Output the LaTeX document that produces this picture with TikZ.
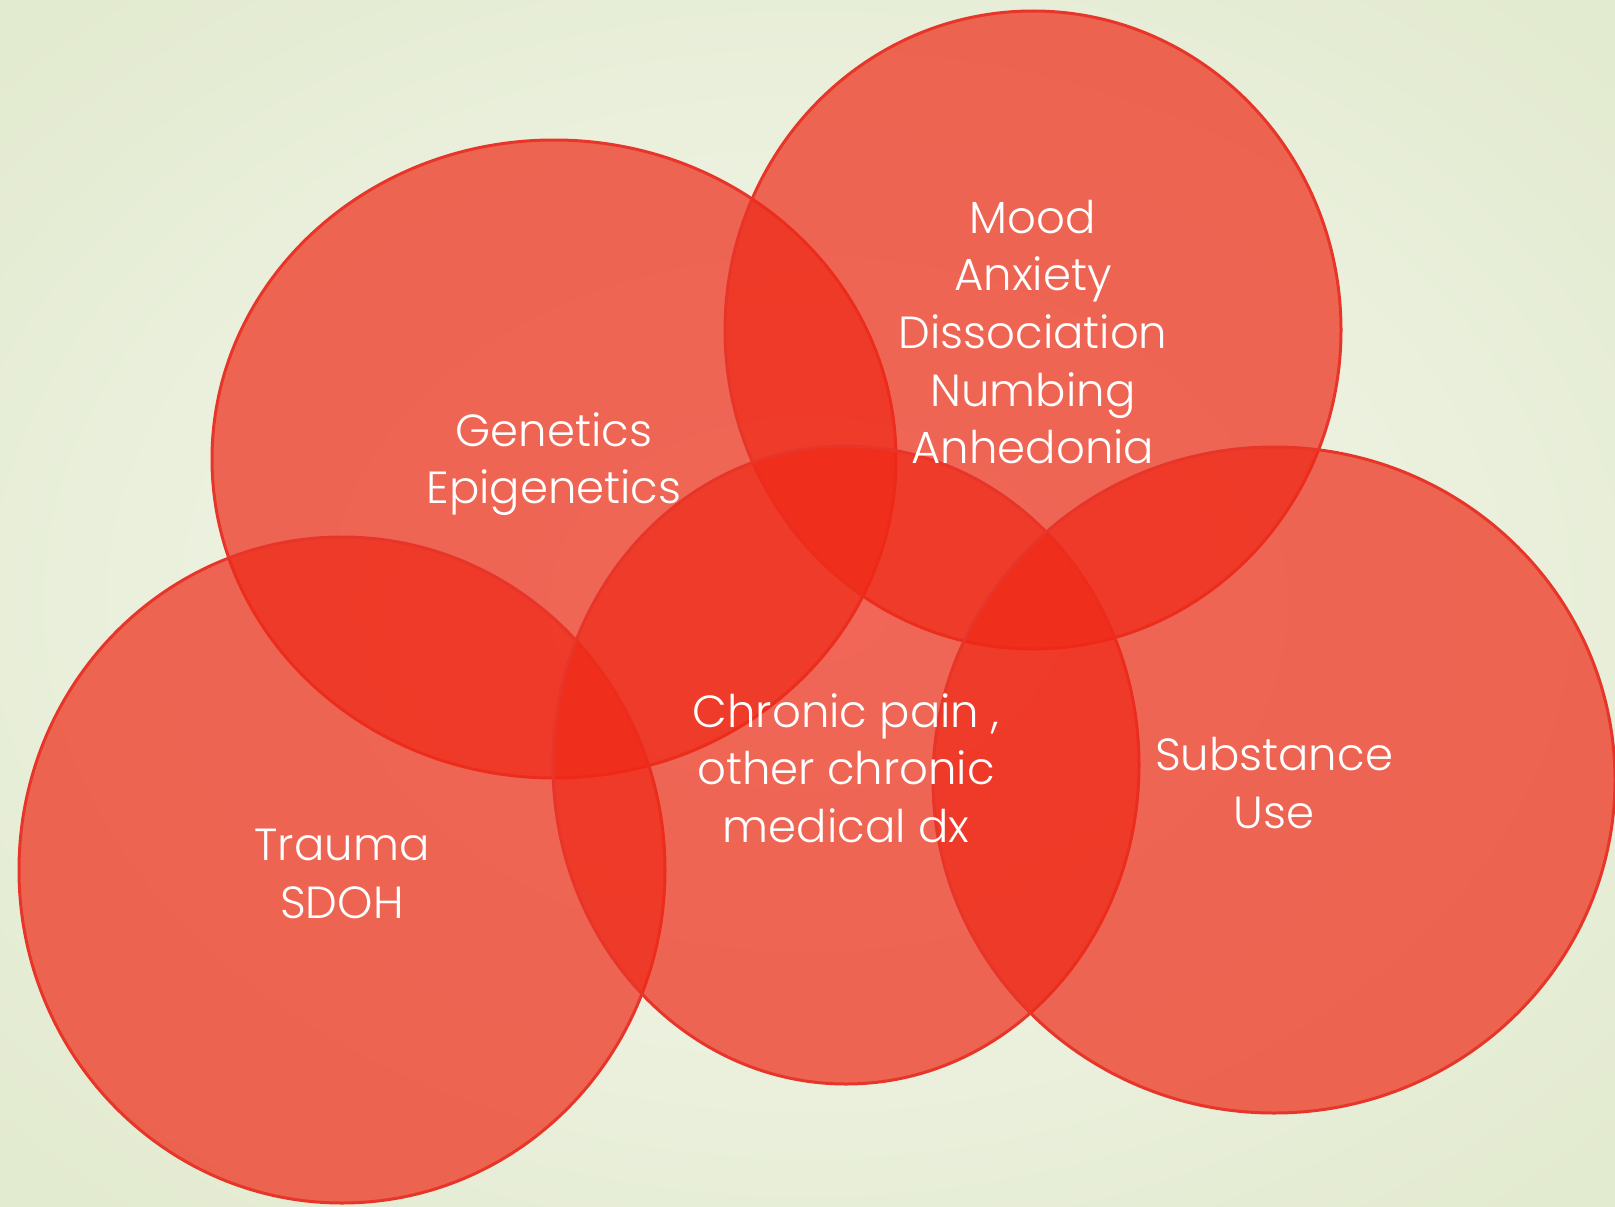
\documentclass[tikz,border=0pt]{standalone}
\usepackage{fontspec}
\setmainfont{Poppins Light}
\usetikzlibrary{shapes.geometric}
\definecolor{bgin}{HTML}{F7F9F0}
\definecolor{bgout}{HTML}{E2EACF}
\definecolor{vred}{HTML}{EF2917}
\definecolor{vline}{HTML}{E8352A}
\tikzset{
  venn/.style={ellipse, draw=vline, line width=3pt, fill=vred, fill opacity=0.7, inner sep=0pt},
  lbl/.style={text=white, align=center, font=\fontsize{45}{57.7}\selectfont}
}
\begin{document}
\begin{tikzpicture}[x=1pt,y=-1pt]
\useasboundingbox (0,0) rectangle (1615,1207);
\shade[inner color=bgin, outer color=bgout] (-300,-200) rectangle (1915,1407);
\node[venn, minimum width=684pt, minimum height=638pt] (gen) at (554,459) {};
\node[venn, minimum width=616pt, minimum height=638pt] (mood) at (1033,330) {};
\node[venn, minimum width=646pt, minimum height=666pt] (trauma) at (342,870) {};
\node[venn, minimum width=586pt, minimum height=638pt] (chronic) at (846,765) {};
\node[venn, minimum width=682pt, minimum height=666pt] (subst) at (1274,780) {};
\node[lbl] (tgen) at (554,464) {Genetics\\Epigenetics};
\node[lbl] (tmood) at (1033,332) {Mood\\Anxiety\\Dissociation\\Numbing\\Anhedonia};
\node[lbl] (ttrauma) at (342,874) {Trauma\\SDOH};
\node[lbl] (tchronic) at (846,768) {Chronic pain ,\\other chronic\\medical dx};
\node[lbl] (tsubst) at (1274,783) {Substance\\Use};
\end{tikzpicture}
\end{document}
